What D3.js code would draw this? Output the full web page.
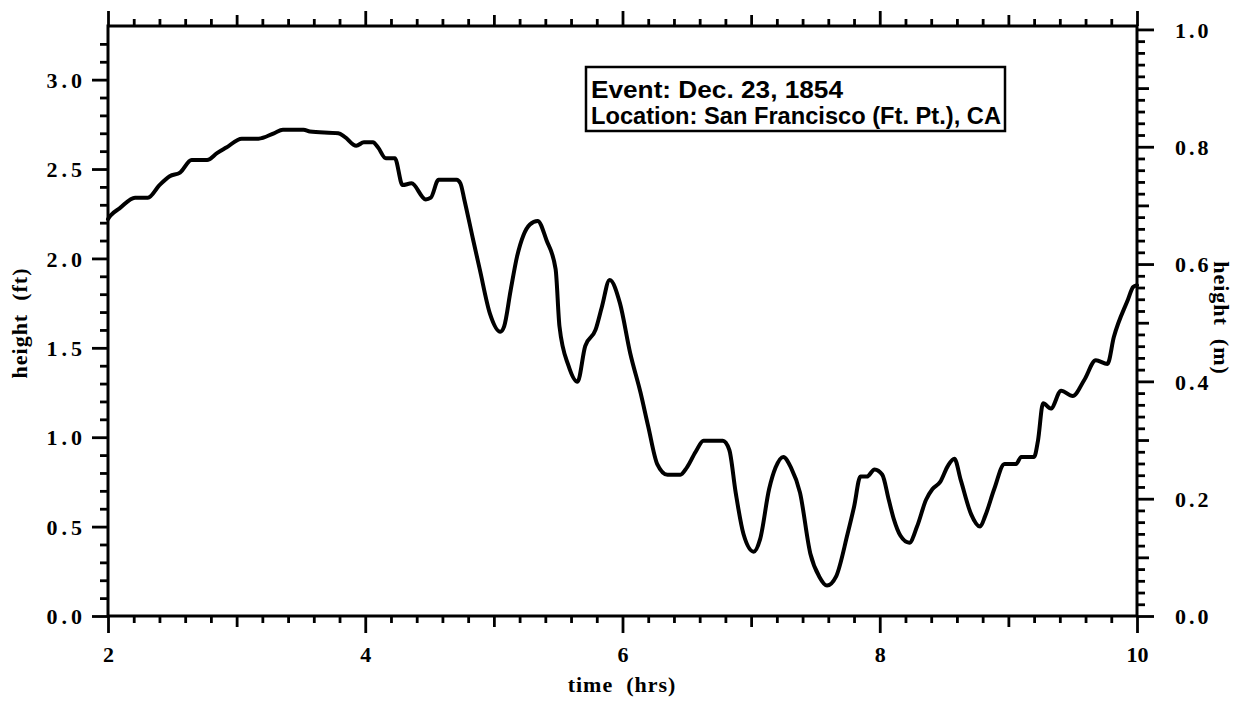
<!DOCTYPE html>
<html>
<head>
<meta charset="utf-8">
<script src="https://cdn.jsdelivr.net/npm/d3@7"></script>
<style>
  body { margin: 0; background: #fff; }
  svg { display: block; }
</style>
</head>
<body>
<svg id="chart" width="1243" height="702"></svg>
<script>
// ---- data ----
const timeHrs = [2.00,2.02,2.09,2.21,2.31,2.40,2.48,2.56,2.65,2.77,2.85,2.92,3.04,3.17,3.29,3.36,3.52,3.57,3.79,3.84,3.93,3.99,4.06,4.10,4.16,4.23,4.29,4.36,4.47,4.51,4.57,4.71,4.74,4.77,4.84,4.89,4.97,5.05,5.08,5.13,5.18,5.23,5.28,5.34,5.41,5.48,5.51,5.58,5.65,5.71,5.79,5.84,5.90,5.98,6.06,6.14,6.20,6.27,6.35,6.45,6.50,6.57,6.63,6.78,6.83,6.88,6.94,7.02,7.07,7.14,7.19,7.25,7.31,7.38,7.46,7.53,7.59,7.66,7.75,7.80,7.85,7.90,7.96,8.02,8.07,8.11,8.16,8.23,8.29,8.36,8.41,8.47,8.53,8.58,8.63,8.71,8.78,8.82,8.89,8.97,9.06,9.10,9.20,9.23,9.27,9.33,9.41,9.50,9.59,9.68,9.77,9.82,9.93,9.97,10.00];
const heightFt = [2.22,2.24,2.28,2.34,2.34,2.41,2.46,2.48,2.55,2.55,2.59,2.62,2.67,2.67,2.70,2.72,2.72,2.71,2.70,2.68,2.63,2.65,2.65,2.62,2.56,2.56,2.41,2.42,2.33,2.34,2.44,2.44,2.42,2.33,2.10,1.94,1.69,1.59,1.62,1.82,2.01,2.13,2.19,2.21,2.10,1.94,1.62,1.40,1.31,1.51,1.60,1.73,1.88,1.75,1.47,1.25,1.06,0.85,0.79,0.79,0.83,0.92,0.98,0.98,0.93,0.69,0.46,0.36,0.43,0.71,0.83,0.89,0.83,0.69,0.35,0.22,0.17,0.22,0.46,0.61,0.78,0.78,0.82,0.79,0.65,0.54,0.45,0.41,0.50,0.65,0.71,0.75,0.84,0.88,0.76,0.57,0.50,0.56,0.71,0.85,0.85,0.89,0.89,0.98,1.19,1.16,1.26,1.23,1.32,1.43,1.41,1.56,1.77,1.84,1.85];

const xMajorTicks = [2, 4, 6, 8, 10];
const ftMajorTicks = [0.0, 0.5, 1.0, 1.5, 2.0, 2.5, 3.0];
const mMajorTicks = [0.0, 0.2, 0.4, 0.6, 0.8, 1.0];
const legendLines = ["Event: Dec. 23, 1854", "Location: San Francisco (Ft. Pt.), CA"];

// ---- layout ----
const svg = d3.select("#chart");
const L = 108, R = 1137, T = 26, B = 616;
const FT_PER_M = 3.28084;
const ftMax = 3.3;

const x = d3.scaleLinear().domain([2, 10]).range([L, R]);
const yFt = d3.scaleLinear().domain([0, ftMax]).range([B, T]);
const yM = d3.scaleLinear().domain([0, ftMax / FT_PER_M]).range([B, T]);

const serif = "'Liberation Serif', 'Times New Roman', serif";

function range(a, b, s) {
  const out = [];
  for (let v = a; v <= b + 1e-9; v += s) out.push(+v.toFixed(4));
  return out;
}
function isMult(v, s) { return Math.abs(v / s - Math.round(v / s)) < 1e-6; }

function drawAxis(g, axisFn, scale, vals, size, labels, fmt) {
  const a = axisFn(scale).tickValues(vals).tickSize(size).tickSizeOuter(0);
  if (labels) a.tickFormat(fmt); else a.tickFormat("");
  g.call(a);
  g.select(".domain").remove();
  g.selectAll(".tick line").attr("stroke", "#000").attr("stroke-width", 2.8);
  return g;
}

// x ticks
const xAll = range(2, 10, 0.2);
const xMinor = xAll.filter(v => !isMult(v, 1));
const xMid = xAll.filter(v => isMult(v, 1) && !isMult(v, 2));

// bottom
drawAxis(svg.append("g").attr("transform", `translate(0,${B})`), d3.axisBottom, x, xMinor, 7, false);
drawAxis(svg.append("g").attr("transform", `translate(0,${B})`), d3.axisBottom, x, xMid, 11, false);
const gxb = drawAxis(svg.append("g").attr("transform", `translate(0,${B})`), d3.axisBottom, x, xMajorTicks, 17, true, d3.format("d"));
gxb.selectAll(".tick text").attr("y", 30).attr("font-family", serif).attr("font-weight", "bold")
  .attr("font-size", 22).attr("fill", "#000");

// top
drawAxis(svg.append("g").attr("transform", `translate(0,${T})`), d3.axisTop, x, xMinor, 7, false);
drawAxis(svg.append("g").attr("transform", `translate(0,${T})`), d3.axisTop, x, xMid, 11, false);
drawAxis(svg.append("g").attr("transform", `translate(0,${T})`), d3.axisTop, x, xMajorTicks, 15, false);

// left (ft)
const ftAll = range(0, 3.2, 0.1);
const ftMinor = ftAll.filter(v => !isMult(v, 0.5));
drawAxis(svg.append("g").attr("transform", `translate(${L},0)`), d3.axisLeft, yFt, ftMinor, 8, false);
const gyl = drawAxis(svg.append("g").attr("transform", `translate(${L},0)`), d3.axisLeft, yFt, ftMajorTicks, 16, true, d3.format(".1f"));
gyl.selectAll(".tick text").attr("x", -22).attr("dy", "0.35em").attr("font-family", serif).attr("font-weight", "bold")
  .attr("font-size", 22).attr("letter-spacing", "4px").attr("fill", "#000");

// right (m)
const mAll = range(0, 1.0, 0.02);
const mMinor = mAll.filter(v => !isMult(v, 0.1));
const mMid = mAll.filter(v => isMult(v, 0.1) && !isMult(v, 0.2));
drawAxis(svg.append("g").attr("transform", `translate(${R},0)`), d3.axisRight, yM, mMinor, 8, false);
drawAxis(svg.append("g").attr("transform", `translate(${R},0)`), d3.axisRight, yM, mMid, 12, false);
const gyr = drawAxis(svg.append("g").attr("transform", `translate(${R},0)`), d3.axisRight, yM, mMajorTicks, 17, true, d3.format(".1f"));
gyr.selectAll(".tick text").attr("x", 38).attr("dy", "0.35em").attr("font-family", serif).attr("font-weight", "bold")
  .attr("font-size", 22).attr("letter-spacing", "3px").attr("fill", "#000");

// frame
svg.append("rect").attr("x", L).attr("y", T).attr("width", R - L).attr("height", B - T)
  .attr("fill", "none").attr("stroke", "#000").attr("stroke-width", 3);

// line
const line = d3.line().x((d, i) => x(timeHrs[i])).y(d => yFt(d)).curve(d3.curveMonotoneX);
svg.append("path").datum(heightFt).attr("d", line)
  .attr("fill", "none").attr("stroke", "#000").attr("stroke-width", 4)
  .attr("stroke-linejoin", "round").attr("stroke-linecap", "round");

// axis titles
svg.append("text").attr("x", 622).attr("y", 692).attr("text-anchor", "middle")
  .attr("font-family", serif).attr("font-weight", "bold").attr("font-size", 22).attr("letter-spacing", "1px")
  .style("white-space", "pre").text("time  (hrs)");
svg.append("text").attr("transform", `translate(27,323) rotate(-90)`).attr("text-anchor", "middle")
  .attr("font-family", serif).attr("font-weight", "bold").attr("font-size", 22).attr("letter-spacing", "1px")
  .style("white-space", "pre").text("height  (ft)");
svg.append("text").attr("transform", `translate(1214,318) rotate(90)`).attr("text-anchor", "middle")
  .attr("font-family", serif).attr("font-weight", "bold").attr("font-size", 22).attr("letter-spacing", "1px")
  .style("white-space", "pre").text("height  (m)");

// legend box
const lg = svg.append("g");
lg.append("rect").attr("x", 586).attr("y", 67).attr("width", 419).attr("height", 64)
  .attr("fill", "#fff").attr("stroke", "#000").attr("stroke-width", 2.5);
const legendWidths = [252, 410];
lg.selectAll("text").data(legendLines).join("text")
  .attr("x", 591).attr("y", (d, i) => 98 + i * 26)
  .attr("font-family", "'Liberation Sans', Arial, sans-serif").attr("font-size", 23).attr("font-weight", "bold")
  .attr("textLength", (d, i) => legendWidths[i]).attr("lengthAdjust", "spacingAndGlyphs")
  .attr("fill", "#000").text(d => d);
</script>
</body>
</html>
